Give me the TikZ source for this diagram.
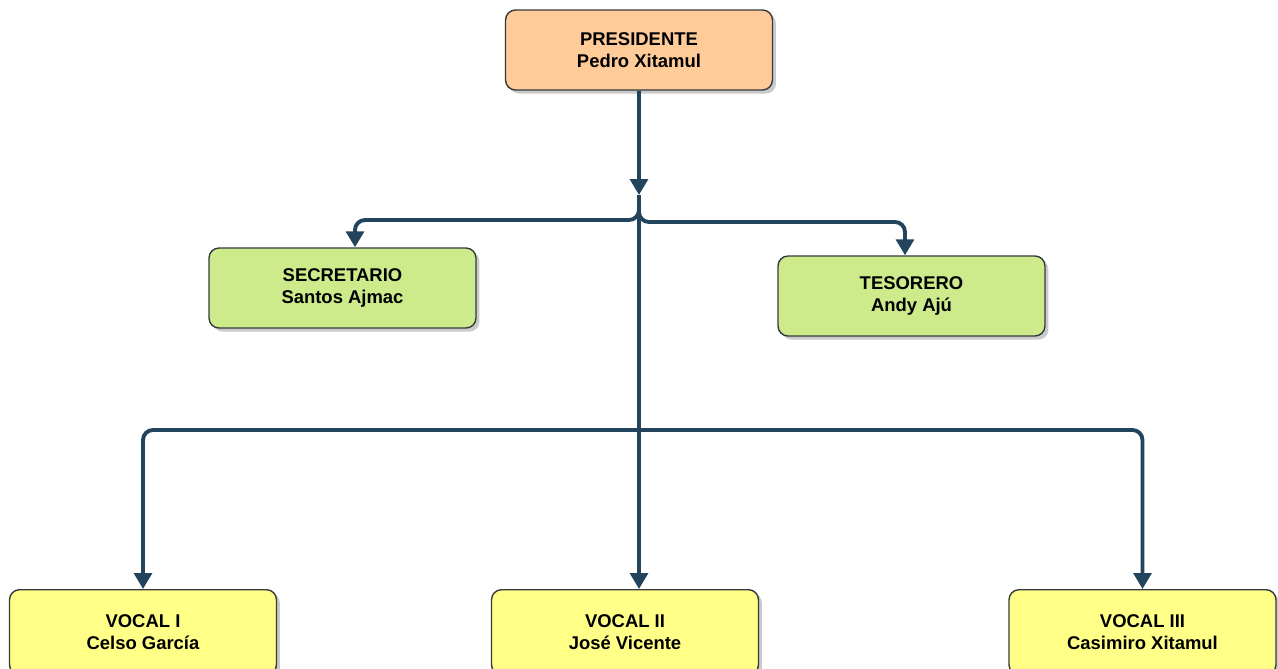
\documentclass[tikz,border=0pt]{standalone}
\usepackage{fontspec}
\setmainfont{Liberation Sans}
\usetikzlibrary{arrows.meta, shadows}
\definecolor{linkblue}{HTML}{23445D}
\definecolor{presfill}{HTML}{FFCC99}
\definecolor{secfill}{HTML}{CDEB8B}
\definecolor{vocfill}{HTML}{FFFF88}
\definecolor{boxline}{HTML}{36393D}
\tikzset{
  cargo/.style={draw=boxline, line width=0.8pt, rounded corners=0.2cm,
    minimum width=5.34cm, minimum height=1.6cm, align=center,
    font=\bfseries\fontsize{10.5}{12.2}\selectfont,
    drop shadow={shadow xshift=2pt, shadow yshift=-2pt, opacity=0.35, fill=black!60}},
  link/.style={draw=linkblue, line width=2.2pt, rounded corners=0.2cm, ->},
}
\begin{document}
\begin{tikzpicture}[>={Triangle[length=9pt,width=10pt]}, x=0.02cm, y=-0.02cm]
            \useasboundingbox (0,0) rectangle (1278,669);
            \node[cargo, fill=presfill] (pres) at (639,50) {PRESIDENTE\\Pedro Xitamul};
            \node[cargo, fill=secfill] (sec) at (342.5,288) {SECRETARIO\\Santos Ajmac};
            \node[cargo, fill=secfill] (tes) at (911.5,296) {TESORERO\\Andy Ajú};
            \node[cargo, fill=vocfill, anchor=north, minimum height=1.7cm] (v1) at (143,589) {VOCAL I\\Celso García};
            \node[cargo, fill=vocfill, anchor=north, minimum height=1.7cm] (v2) at (625,589) {VOCAL II\\José Vicente};
            \node[cargo, fill=vocfill, anchor=north, minimum height=1.7cm] (v3) at (1142.5,589) {VOCAL III\\Casimiro Xitamul};
            
            \coordinate (j1) at (639,195);
            \coordinate (j2) at (639,430);
            
            \draw[link] (pres) -- (j1);
            \draw[link] (j1) -- ++(0,25) -| ([xshift=0.25cm]sec.north);
            \draw[link] (j1) -- ++(0,27) -| ([xshift=-0.13cm]tes.north);
            \draw[link] (j1) -- (j1 |- v2.north);
            \draw[link] (j2) -| (v1.north);
            \draw[link] (j2) -| (v3.north);
            
            \end{tikzpicture}
\end{document}
